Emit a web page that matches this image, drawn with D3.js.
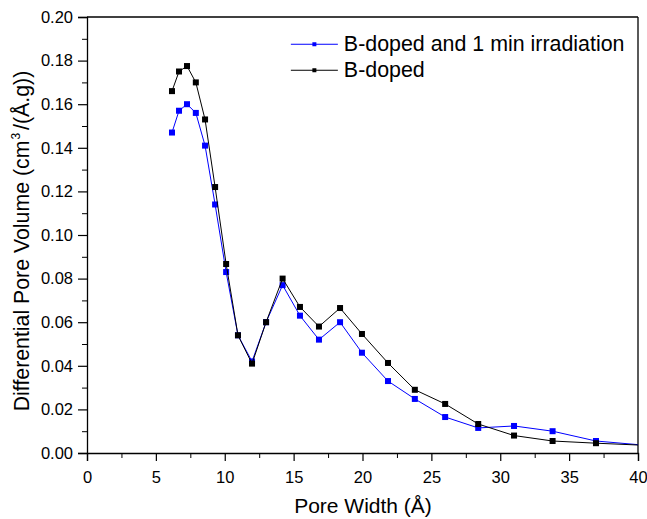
<!DOCTYPE html>
<html>
<head>
<meta charset="utf-8">
<script src="https://cdn.jsdelivr.net/npm/d3@7"></script>
<style>
  body { margin: 0; background: #fff; }
  svg text { font-family: "Liberation Sans", Arial, sans-serif; fill: #000; }
</style>
</head>
<body>
<div id="chart"></div>
<script>
// pore width (Å) and differential pore volume for each sample
const poreWidth = [6.17, 6.68, 7.26, 7.9, 8.57, 9.3, 10.1, 10.96, 11.98, 13.0, 14.2, 15.46, 16.84, 18.37, 19.96, 21.85, 23.8, 26.0, 28.4, 31.0, 33.8, 36.95, 40.6];
const irradiated = [0.147, 0.157, 0.160, 0.156, 0.141, 0.114, 0.083, 0.054, 0.042, 0.060, 0.077, 0.063, 0.052, 0.060, 0.046, 0.033, 0.0248, 0.0165, 0.0115, 0.0124, 0.010, 0.0055, 0.0035];
const doped = [0.166, 0.175, 0.1775, 0.170, 0.153, 0.122, 0.0867, 0.054, 0.041, 0.060, 0.080, 0.067, 0.058, 0.0665, 0.0546, 0.0413, 0.029, 0.0225, 0.0133, 0.008, 0.0055, 0.0045, 0.0035];

const seriesNames = ["B-doped and 1 min irradiation", "B-doped"];
const seriesColors = ["#0000ff", "#000000"];
const xTicks = [0, 5, 10, 15, 20, 25, 30, 35, 40];
const yTicks = [0, 0.02, 0.04, 0.06, 0.08, 0.10, 0.12, 0.14, 0.16, 0.18, 0.20];

const width = 647, height = 519;
const margin = { top: 17, right: 9, bottom: 66, left: 87 };
const w = width - margin.left - margin.right;
const h = height - margin.top - margin.bottom;

const svg = d3.select("#chart").append("svg")
  .attr("width", width)
  .attr("height", height);

const g = svg.append("g").attr("transform", `translate(${margin.left},${margin.top})`);

const x = d3.scaleLinear().domain([0, 40]).range([0, w]);
const y = d3.scaleLinear().domain([0, 0.2]).range([h, 0]);

g.append("clipPath").attr("id", "clip")
  .append("rect").attr("width", w).attr("height", h);

// minor ticks
const xMinor = d3.range(2.5, 40, 5);
const yMinor = d3.range(0.01, 0.2, 0.02);

g.append("g")
  .attr("transform", `translate(0,${h})`)
  .call(d3.axisBottom(x).tickValues(xMinor).tickSize(5).tickFormat(""))
  .call(s => s.select(".domain").remove());
g.append("g")
  .call(d3.axisLeft(y).tickValues(yMinor).tickSize(5).tickFormat(""))
  .call(s => s.select(".domain").remove());

const xAxis = g.append("g")
  .attr("transform", `translate(0,${h})`)
  .call(d3.axisBottom(x).tickValues(xTicks).tickSize(8).tickPadding(10).tickFormat(d3.format("d")));
const yAxis = g.append("g")
  .call(d3.axisLeft(y).tickValues(yTicks).tickSize(9).tickPadding(5).tickFormat(d3.format(".2f")));

[xAxis, yAxis].forEach(a => {
  a.selectAll("text").style("font-size", "16.5px").style("font-family", "'Liberation Sans', Arial, sans-serif");
  a.select(".domain").attr("stroke-width", 1.3);
  a.selectAll(".tick line").attr("stroke-width", 1.2);
});
g.selectAll(".tick line").attr("stroke", "#000");

// frame top and right
g.append("line").attr("x1", 0).attr("x2", w).attr("y1", 0).attr("y2", 0)
  .attr("stroke", "#000").attr("stroke-width", 1.3);
g.append("line").attr("x1", w).attr("x2", w).attr("y1", 0).attr("y2", h)
  .attr("stroke", "#000").attr("stroke-width", 1.3);

const series = [irradiated, doped];
const plot = g.append("g").attr("clip-path", "url(#clip)");
const line = d3.line().x(d => x(d[0])).y(d => y(d[1]));

series.forEach((vals, i) => {
  const pts = poreWidth.map((p, j) => [p, vals[j]]);
  plot.append("path")
    .datum(pts)
    .attr("fill", "none")
    .attr("stroke", seriesColors[i])
    .attr("stroke-width", 1)
    .attr("d", line);
  plot.selectAll(".m" + i)
    .data(pts)
    .enter()
    .append("rect")
    .attr("x", d => x(d[0]) - 3)
    .attr("y", d => y(d[1]) - 3)
    .attr("width", 6)
    .attr("height", 6)
    .attr("fill", seriesColors[i]);
});

// legend
const legend = g.append("g").attr("transform", `translate(${x(14.8)},${y(0.1875)})`);
seriesNames.forEach((name, i) => {
  const row = legend.append("g").attr("transform", `translate(0,${i * 26})`);
  row.append("line").attr("x1", 0).attr("x2", 47).attr("y1", 0).attr("y2", 0)
    .attr("stroke", seriesColors[i]).attr("stroke-width", 1);
  row.append("rect").attr("x", 21.5).attr("y", -2).attr("width", 4).attr("height", 4)
    .attr("fill", seriesColors[i]);
  row.append("text").attr("x", 53).attr("y", 7).style("font-size", "21.4px").text(name);
});

// axis titles
svg.append("text")
  .attr("x", 363)
  .attr("y", 513)
  .attr("text-anchor", "middle")
  .style("font-size", "21px")
  .text("Pore Width (Å)");

const yt = svg.append("text")
  .attr("transform", `translate(29,241) rotate(-90)`)
  .attr("text-anchor", "middle")
  .style("font-size", "21.3px");
yt.append("tspan").text("Differential Pore Volume (cm");
yt.append("tspan").attr("dy", -9).attr("dx", 1).style("font-size", "12px").text("3");
yt.append("tspan").attr("dy", 9).attr("dx", 3).text("/(Å.g))");
</script>
</body>
</html>
